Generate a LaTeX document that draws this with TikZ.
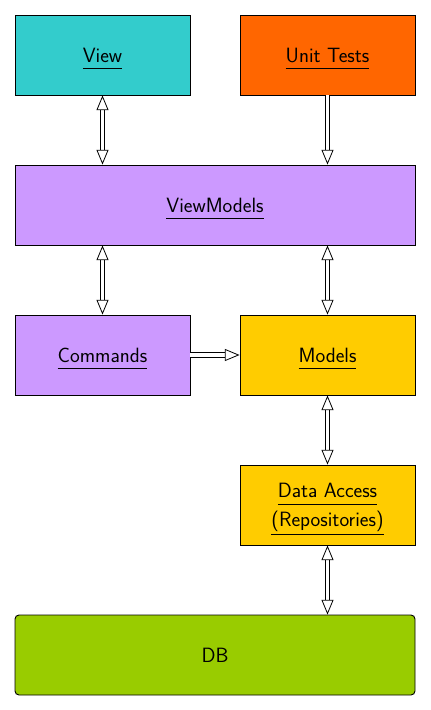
\documentclass[tikz,border=0pt]{standalone}
\usetikzlibrary{arrows.meta}
\definecolor{viewcol}{HTML}{33CCCC}
\definecolor{testcol}{HTML}{FF6600}
\definecolor{vmcol}{HTML}{CC99FF}
\definecolor{modelcol}{HTML}{FFCC00}
\definecolor{dbcol}{HTML}{99CC00}
\newcommand{\ulbox}[1]{\raisebox{0pt}[\height][0pt]{\underline{\rule[-3.5pt]{0pt}{0pt}#1}}}
\tikzset{
  box/.style={draw, line width=0.7pt, minimum width=131.25pt, minimum height=60pt, inner sep=0pt,
    font=\sffamily\fontsize{15.5}{19}\selectfont, align=center},
  widebox/.style={box, minimum width=300pt},
  link/.style={double, double distance=2.6pt, line width=0.6pt, -{Triangle[open, length=11pt, width=9pt]}},
  both/.style={link, {Triangle[open, length=11pt, width=9pt]}-{Triangle[open, length=11pt, width=9pt]}}
}
\begin{document}
\begin{tikzpicture}[x=0.75pt,y=-0.75pt]
    \useasboundingbox (0,0) rectangle (430,710);
    \node[box, fill=viewcol] (view) at (102.5,55) {\ulbox{View}};
    \node[box, fill=testcol] (tests) at (327.5,55) {\ulbox{Unit Tests}};
    \node[widebox, fill=vmcol] (vm) at (215,205) {\ulbox{ViewModels}};
    \node[box, fill=vmcol] (cmds) at (102.5,355) {\ulbox{Commands}};
    \node[box, fill=modelcol] (models) at (327.5,355) {\ulbox{Models}};
    \node[box, fill=modelcol] (data) at (327.5,505) {\ulbox{Data Access}\\[3pt]\ulbox{(Repositories)}};
    \node[widebox, fill=dbcol, rounded corners=3pt] (db) at (215,655) {DB};
    \draw[both] (view) -- (view |- vm.north);
    \draw[link] (tests) -- (tests |- vm.north);
    \draw[both] (vm.south -| view) -- (cmds);
    \draw[both] (vm.south -| models) -- (models);
    \draw[link] (cmds) -- (models);
    \draw[both] (models) -- (data);
    \draw[both] (data) -- (data |- db.north);
\end{tikzpicture}
\end{document}
